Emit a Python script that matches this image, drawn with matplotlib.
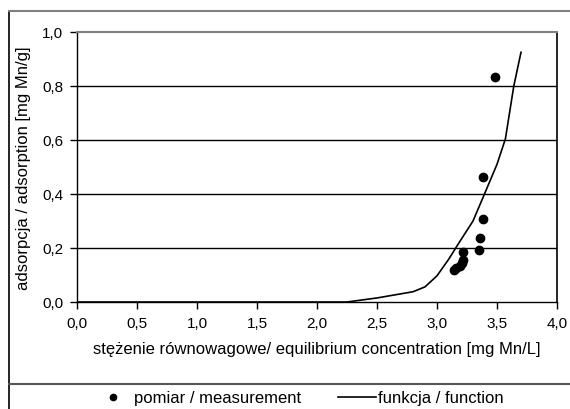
import matplotlib
matplotlib.use("Agg")
import matplotlib.pyplot as plt
from matplotlib.lines import Line2D
from matplotlib.ticker import FuncFormatter

plt.rcParams['font.family'] = ['Liberation Sans', 'DejaVu Sans']

# measured points
meas_x = [3.48, 3.38, 3.38, 3.36, 3.35, 3.22, 3.22, 3.21, 3.19, 3.16, 3.14]
meas_y = [0.835, 0.464, 0.309, 0.236, 0.194, 0.184, 0.155, 0.145, 0.134, 0.125, 0.117]

# fitted function
func_x = [0.0, 2.25, 2.5, 2.8, 2.9, 3.0, 3.1, 3.17, 3.3, 3.39, 3.5, 3.57, 3.64, 3.70]
func_y = [0.0, 0.0, 0.015, 0.038, 0.056, 0.097, 0.16, 0.21, 0.30, 0.394, 0.51, 0.604, 0.80, 0.925]

xticks = [0.0, 0.5, 1.0, 1.5, 2.0, 2.5, 3.0, 3.5, 4.0]
yticks = [0.0, 0.2, 0.4, 0.6, 0.8, 1.0]

xlabel = "stężenie równowagowe/ equilibrium concentration [mg Mn/L]"
ylabel = "adsorpcja / adsorption [mg Mn/g]"
label_meas = "pomiar / measurement"
label_func = "funkcja / function"

fig = plt.figure(figsize=(5.7, 4.1), dpi=100)
ax = fig.add_axes([77/570, 1-303/410, (557-77)/570, (303-33)/410])

for yv in yticks[1:-1]:
    ax.axhline(yv, color='black', lw=1.0, zorder=1)

ax.plot(func_x, func_y, color='black', lw=1.2, zorder=3)
ax.plot(meas_x, meas_y, 'o', color='black', ms=6, zorder=4, linestyle='none')

ax.set_xlim(0, 4)
ax.set_ylim(0, 1)
ax.set_xticks(xticks)
ax.set_yticks(yticks)
fmt = FuncFormatter(lambda v, p: f"{v:.1f}".replace('.', ','))
ax.xaxis.set_major_formatter(fmt)
ax.yaxis.set_major_formatter(fmt)
ax.tick_params(direction='out', length=5, width=1, labelsize=11, colors='black', pad=5)

for s in ['left', 'bottom']:
    ax.spines[s].set_color('black')
    ax.spines[s].set_linewidth(1.0)
ax.spines['top'].set_color('#808080')
ax.spines['top'].set_linewidth(1.5)
ax.spines['right'].set_color('black')
ax.spines['right'].set_linewidth(1.2)

ax.set_xlabel(xlabel, fontsize=12, labelpad=8)
ax.set_ylabel(ylabel, fontsize=12, labelpad=8)

# outer frame and legend separator
fig.add_artist(Line2D([9/570, 9/570], [0, 1-12/410], color='black', lw=1.2, transform=fig.transFigure))
fig.add_artist(Line2D([9/570, 1], [1-12/410, 1-12/410], color='#808080', lw=1.5, transform=fig.transFigure))
fig.add_artist(Line2D([9/570, 1], [1-385/410, 1-385/410], color='#555555', lw=1.5, transform=fig.transFigure))

handles = [Line2D([], [], marker='o', color='black', ms=4.5, linestyle='none'),
           Line2D([], [], color='black', lw=1.2)]
fig.legend(handles, [label_meas, label_func], loc='center', bbox_to_anchor=(0.524, 1-399/410),
           ncol=2, frameon=False, fontsize=12, handlelength=2.28, handletextpad=0.12,
           columnspacing=2.2, borderpad=0, borderaxespad=0)

fig.savefig("out.png", dpi=100)
